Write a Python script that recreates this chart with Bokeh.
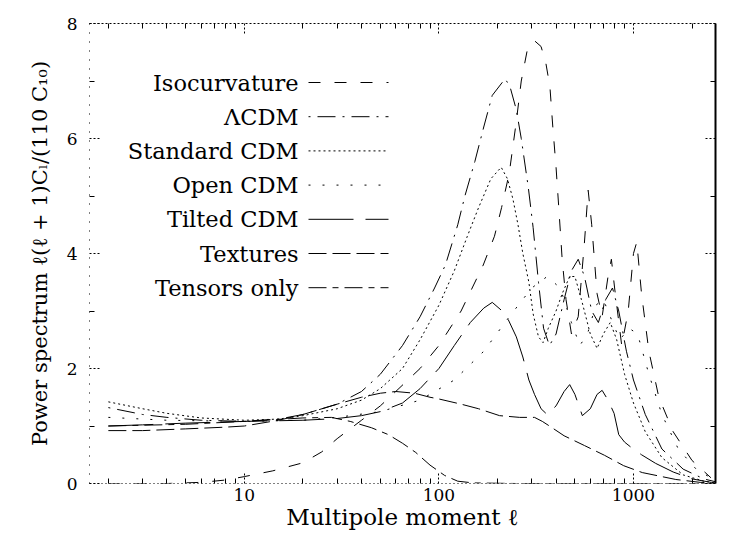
import numpy as np
from bokeh.plotting import figure
from bokeh.models import Range1d, FixedTicker, LinearAxis, LogAxis, PrintfTickFormatter
from bokeh.embed import file_html
from bokeh.resources import INLINE
from bokeh.core.properties import value

# ---------------- data (multipole l, l(l+1)C_l normalised) ----------------
isocurvature = [(2, 0.0), (4, 0.0), (6, 0.02), (8, 0.06), (10, 0.12), (14, 0.22), (20, 0.36),
                (25, 0.55), (30, 0.78), (40, 1.1), (50, 1.35), (60, 1.6), (80, 2.0), (100, 2.4),
                (130, 3.0), (169, 3.8), (193, 4.3), (210, 4.8), (230, 5.4), (250, 6.3), (265, 7.0),
                (285, 7.55), (310, 7.7), (335, 7.6), (355, 7.3), (372, 6.9), (385, 6.2), (400, 5.5),
                (415, 4.7), (430, 3.9), (450, 3.2), (480, 2.6), (520, 2.9), (560, 4.2), (585, 5.1),
                (610, 4.5), (650, 3.3), (690, 2.9), (740, 3.6), (770, 3.9), (800, 3.4), (870, 2.4),
                (940, 3.0), (1000, 4.0), (1040, 4.2), (1100, 3.3), (1200, 2.3), (1350, 1.5),
                (1600, 0.9), (2000, 0.4), (2500, 0.1)]
lcdm = [(2, 1.32), (3, 1.2), (4, 1.15), (6, 1.1), (10, 1.08), (15, 1.12), (20, 1.2), (30, 1.38),
        (40, 1.6), (50, 1.9), (65, 2.4), (80, 2.9), (95, 3.4), (108, 3.8), (125, 4.5), (136, 5.0),
        (153, 5.6), (170, 6.2), (188, 6.75), (219, 7.04), (232, 6.9), (250, 6.5), (265, 6.0),
        (288, 5.15), (305, 4.45), (325, 3.5), (345, 2.7), (370, 2.4), (400, 2.6), (440, 3.2),
        (480, 3.7), (520, 3.9), (560, 3.6), (610, 3.0), (660, 2.8), (720, 3.2), (780, 3.4),
        (840, 3.0), (920, 2.3), (1000, 1.8), (1150, 1.2), (1400, 0.6), (1800, 0.25),
        (2300, 0.08), (2640, 0.03)]
standard_cdm = [(2, 1.42), (3, 1.3), (4, 1.22), (6, 1.14), (10, 1.1), (15, 1.12), (20, 1.18),
                (30, 1.3), (40, 1.45), (50, 1.65), (65, 2.0), (80, 2.5), (100, 3.1), (120, 3.7),
                (140, 4.3), (160, 4.8), (185, 5.3), (209, 5.5), (225, 5.3), (240, 4.95), (255, 4.5),
                (270, 4.0), (290, 3.5), (305, 2.95), (325, 2.55), (343, 2.45), (365, 2.7),
                (400, 3.0), (430, 3.3), (470, 3.6), (500, 3.6), (540, 3.2), (600, 2.6),
                (650, 2.35), (700, 2.6), (760, 2.8), (820, 2.5), (900, 1.9), (1000, 1.4),
                (1150, 0.9), (1400, 0.45), (1800, 0.15), (2300, 0.04), (2640, 0.01)]
open_cdm = [(2, 1.15), (4, 1.1), (10, 1.08), (20, 1.1), (30, 1.15), (50, 1.25), (80, 1.45),
            (120, 1.8), (170, 2.3), (230, 2.9), (300, 3.4), (360, 3.6), (420, 3.4), (480, 2.8),
            (530, 2.4), (580, 2.6), (640, 3.1), (700, 3.2), (760, 2.9), (850, 2.5), (950, 2.7),
            (1050, 2.6), (1200, 1.9), (1400, 1.2), (1700, 0.6), (2100, 0.25), (2640, 0.05)]
tilted_cdm = [(2, 1.0), (3, 1.02), (5, 1.05), (10, 1.08), (20, 1.1), (30, 1.13), (40, 1.18),
              (50, 1.25), (65, 1.4), (80, 1.65), (100, 2.0), (120, 2.4), (145, 2.8), (170, 3.05),
              (188, 3.15), (220, 2.95), (250, 2.55), (270, 2.2), (290, 1.8), (310, 1.55),
              (335, 1.3), (360, 1.2), (400, 1.35), (440, 1.6), (470, 1.72), (500, 1.55),
              (546, 1.18), (600, 1.3), (650, 1.55), (690, 1.62), (740, 1.45), (795, 1.22),
              (840, 0.85), (900, 0.72), (980, 0.62), (1100, 0.5), (1300, 0.35), (1600, 0.2),
              (2000, 0.08), (2500, 0.02)]
textures = [(2, 0.92), (3, 0.92), (5, 0.95), (8, 0.98), (10, 1.0), (15, 1.1), (20, 1.2),
            (30, 1.38), (40, 1.5), (50, 1.57), (60, 1.6), (75, 1.57), (90, 1.5), (100, 1.47),
            (130, 1.38), (160, 1.3), (205, 1.18), (260, 1.15), (310, 1.15), (340, 1.08),
            (370, 1.0), (440, 0.83), (560, 0.66), (710, 0.49), (890, 0.31), (1110, 0.19),
            (1650, 0.07), (2200, 0.02), (2640, 0.01)]
tensors_only = [(2, 1.0), (5, 1.03), (10, 1.08), (20, 1.14), (28, 1.15), (35, 1.08), (45, 0.97),
                (55, 0.85), (65, 0.7), (76, 0.54), (90, 0.32), (107, 0.14), (125, 0.04),
                (150, 0.01), (250, 0.0), (2640, 0.0)]

labels = ["Isocurvature", "\u039bCDM", "Standard CDM", "Open CDM", "Tilted CDM", "Textures",
          "Tensors only"]
series = [isocurvature, lcdm, standard_cdm, open_cdm, tilted_cdm, textures, tensors_only]
dashes = ["12 14", "2 7 18 7", "2 3", "2 12", "45 12", "18 6", "18 6 6 6"]

x_ticks = [10, 100, 1000]
x_minor = [2, 3, 4, 5, 6, 7, 8, 9, 20, 30, 40, 50, 60, 70, 80, 90,
           200, 300, 400, 500, 600, 700, 800, 900, 2000]
y_ticks = [0, 2, 4, 6, 8]
y_minor = [1, 3, 5, 7]

FONT = "DejaVu Serif"
L_LO, L_HI = 1.6, 2640

# frame placed at x 89..715, y 23..483 of the page
p = figure(width=752, height=545, x_axis_type="log",
           x_range=Range1d(L_LO, L_HI), y_range=Range1d(0, 8),
           output_backend="svg", toolbar_location=None,
           min_border_left=89, min_border_right=37, min_border_top=23, min_border_bottom=62)
p.grid.visible = False
p.outline_line_color = None
p.background_fill_color = "white"
p.border_fill_color = "white"

for data, dash in zip(series, dashes):
    xs = [d[0] for d in data]
    ys = [d[1] for d in data]
    p.line(xs, ys, line_color="black", line_width=1, line_dash=dash)

# legend (text left, sample right), positioned in page pixels
lo, hi = np.log10(L_LO), np.log10(L_HI)
def px_to_l(px):
    return 10 ** (lo + (px - 89) / 626.0 * (hi - lo))
def py_to_v(py):
    return (483 - py) / 57.5

rows_py = [82 + 34.2 * i for i in range(len(labels))]
p.text(x=[px_to_l(298)] * len(labels), y=[py_to_v(r) for r in rows_py], text=labels,
       text_align="right", text_baseline="middle", text_font=value(FONT),
       text_font_size="22.5px", text_color="black")
for r, dash in zip(rows_py, dashes):
    p.line([px_to_l(308), px_to_l(388)], [py_to_v(r), py_to_v(r)],
           line_color="black", line_width=1, line_dash=dash)

def style(ax, ticks, minor, show_labels):
    ax.ticker = FixedTicker(ticks=ticks, minor_ticks=minor)
    ax.major_tick_in = 10
    ax.major_tick_out = 0
    ax.minor_tick_in = 5
    ax.minor_tick_out = 0
    ax.major_tick_line_color = "black"
    ax.minor_tick_line_color = "black"
    ax.major_tick_line_dash = "2 2"
    ax.axis_line_color = "black"
    if show_labels:
        ax.major_label_text_font = FONT
        ax.major_label_text_font_size = "17px"
        ax.major_label_text_color = "black"
        ax.axis_label_text_font = FONT
        ax.axis_label_text_font_style = "normal"
        ax.axis_label_text_color = "black"
    else:
        ax.major_label_text_font_size = "2px"
        ax.major_label_text_alpha = 0
        ax.major_label_standoff = 0

xb = p.xaxis[0]
style(xb, x_ticks, x_minor, True)
xb.formatter = PrintfTickFormatter(format="%d")
xb.axis_label = "Multipole moment \u2113"
xb.axis_label_text_font_size = "23px"
xb.major_label_standoff = 5
xb.axis_label_standoff = 0
xb.axis_line_dash = "1 3"

yl = p.yaxis[0]
style(yl, y_ticks, y_minor, True)
yl.axis_label = "Power spectrum \u2113(\u2113 + 1)C\u2097/(110 C\u2081\u2080)"
yl.axis_label_text_font_size = "21px"
yl.major_label_standoff = 12
yl.axis_label_standoff = 12
yl.axis_line_dash = "1 8"

top = LogAxis()
style(top, x_ticks, x_minor, False)
top.axis_line_dash = "2 2"
p.add_layout(top, "above")

right = LinearAxis()
style(right, y_ticks, y_minor, False)
right.axis_line_width = 2
p.add_layout(right, "right")

open("out.html", "w").write(file_html(p, INLINE))
